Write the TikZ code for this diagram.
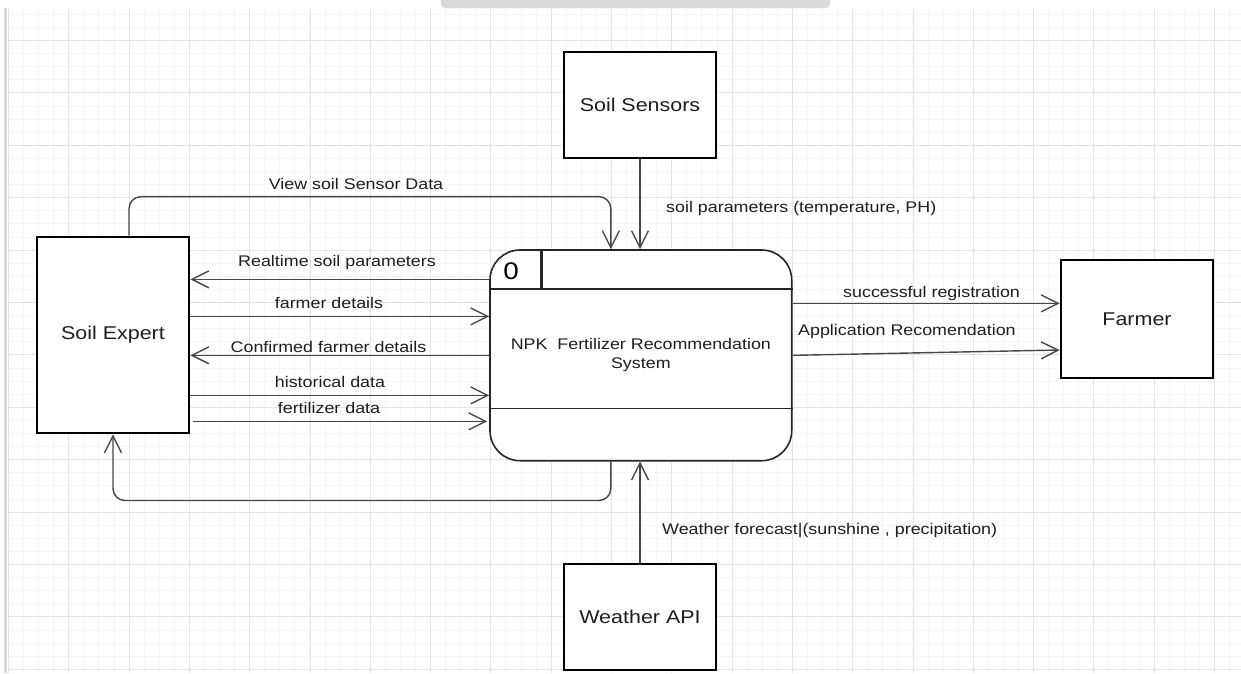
\documentclass[tikz,border=0pt]{standalone}
\usepackage{fontspec}
\setmainfont{Liberation Sans}
\usepackage{graphicx}
\usetikzlibrary{arrows.meta}

\definecolor{ink}{HTML}{1E1E1E}
\definecolor{wire}{HTML}{474747}
\definecolor{gridmajor}{HTML}{E4E4E4}
\definecolor{gridminor}{HTML}{F6F6F6}
\definecolor{frame}{HTML}{DADADA}

% labels are set a little wider than the font's own proportions
\newcommand\wide[1]{\scalebox{1.16}[1]{#1}}

\tikzset{
  entity/.style={draw=black, line width=2.7pt, fill=white, minimum width=152pt,
    inner sep=0pt, text=ink, font=\fontsize{18.5}{22}\selectfont},
  process/.style={draw=black!85, line width=1.6pt, fill=white, rounded corners=30pt,
    minimum width=301.7pt, minimum height=210.7pt, inner sep=0pt, text=ink,
    font=\fontsize{15.4}{18.8}\selectfont},
  flow/.style={draw=wire, line width=1.4pt,
    -{Straight Barb[length=17pt,width=17pt,line width=1.4pt]}},
  lbl/.style={text=ink, inner sep=0pt, font=\fontsize{15.4}{18.6}\selectfont},
  minorline/.style={draw=gridminor, line width=1pt},
  majorline/.style={draw=gridmajor, line width=1pt},
}

\begin{document}
\begin{tikzpicture}[x=1pt, y=-1pt]
  \useasboundingbox (0,0) rectangle (1241,673);
  \fill[white] (0,0) rectangle (1241,673);

  % background grid, snapped to whole units so every line is equally crisp
  \begin{scope}
    \clip (8,8) rectangle (1241,673);
    \foreach \i [evaluate=\i as \xx using {round(8+15.075*\i)+0.5}] in {0,...,84}
      \draw[minorline] (\xx,8) -- (\xx,673);
    \foreach \j [evaluate=\j as \yy using {round(-12.4+13.1*\j)+0.5}] in {1,...,52}
      \draw[minorline] (0,\yy) -- (1241,\yy);
    \foreach \i [evaluate=\i as \xx using {round(8+60.3*\i)+0.5}] in {0,...,21}
      \draw[majorline] (\xx,8) -- (\xx,673);
    \foreach \j [evaluate=\j as \yy using {round(-12.4+52.4*\j)+0.5}] in {1,...,13}
      \draw[majorline] (0,\yy) -- (1241,\yy);
  \end{scope}
  \draw[frame, line width=3pt] (5,8) -- (5,673);
  \fill[frame, rounded corners=4pt] (441,-6) rectangle (830,8);

  % external entities
  \node[entity, minimum height=106pt] (sensors) at (640,105) {\wide{Soil Sensors}};
  \node[entity, minimum height=196pt] (expert)  at (113,335) {\wide{Soil Expert}};
  \node[entity, minimum height=118pt] (farmer)  at (1137,319) {\wide{Farmer}};
  \node[entity, minimum height=106pt] (weather) at (640,617) {\wide{Weather API}};

  % process
  \node[process] (proc) at (640.85,355.35)
    {\raisebox{-3pt}{\wide{\begin{tabular}{@{}c@{}}NPK\ \ Fertilizer Recommendation\\[-0.5pt]System\end{tabular}}}};
  \draw[black!85, line width=1.6pt] ([yshift=-40]proc.north west) -- ([yshift=-40]proc.north east);
  \draw[black!85, line width=2.6pt] ([xshift=52]proc.north west) -- ([xshift=52,yshift=-40]proc.north west);
  \draw[black!85, line width=1.6pt] ([yshift=53]proc.south west) -- ([yshift=53]proc.south east);
  \node[text=black, inner sep=0pt, font=\fontsize{24}{24}\selectfont] (pid)
    at ([xshift=22,yshift=-22]proc.north west) {\wide{0}};

  % data flows
  \draw[flow, rounded corners=12pt] ([xshift=16]expert.north) -- ++(0,-39) -| ([xshift=-30]proc.north);
  \draw[flow] (sensors.south) -- (sensors.south |- proc.north);
  \draw[flow] ([yshift=76]proc.west) -- ([yshift=76]proc.west -| expert.east);
  \draw[flow] ([yshift=39]proc.west -| expert.east) -- ([yshift=39]proc.west);
  \draw[flow] (proc.west) -- (proc.west -| expert.east);
  \draw[flow] ([yshift=-40]proc.west -| expert.east) -- ([yshift=-40]proc.west);
  \draw[flow] ([xshift=3,yshift=-66]proc.west -| expert.east) -- ([xshift=-2,yshift=-66]proc.west);
  \draw[flow, rounded corners=12pt] ([xshift=-30]proc.south) -- ++(0,39) -| (expert.south);
  \draw[flow] (weather.north) -- (weather.north |- proc.south);
  \draw[flow] ([yshift=52]proc.east) -- ([yshift=52]proc.east -| farmer.west);
  \draw[flow] (proc.east) -- ([yshift=-31]farmer.west);

  % flow labels
  \node[lbl] (l1) at (356,184) {\wide{View soil Sensor Data}};
  \node[lbl, anchor=west] (l2) at (666,209) {\wide{soil parameters (temperature, PH)}};
  \node[lbl] (l3) at (337,263) {\wide{Realtime soil parameters}};
  \node[lbl] (l4) at (329,303) {\wide{farmer details}};
  \node[lbl] (l5) at (328.5,347) {\wide{Confirmed farmer details}};
  \node[lbl] (l6) at (330,382) {\wide{historical data}};
  \node[lbl] (l7) at (329,408) {\wide{fertilizer data}};
  \node[lbl, anchor=west] (l8) at (843,294) {\wide{successful registration}};
  \node[lbl, anchor=west] (l9) at (798,332) {\wide{Application Recomendation}};
  \node[lbl, anchor=west] (l10) at (662,531) {\wide{Weather forecast|(sunshine , precipitation)}};
\end{tikzpicture}
\end{document}
